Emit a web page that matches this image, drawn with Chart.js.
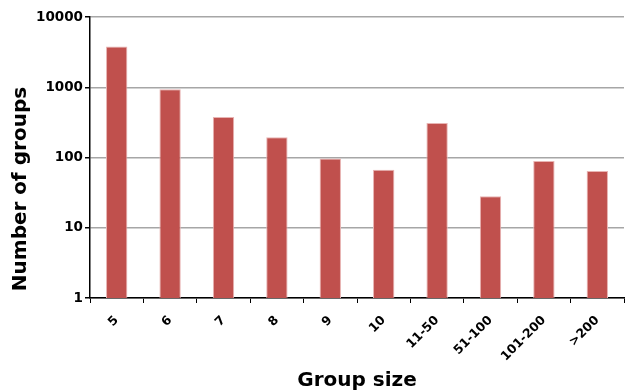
<!DOCTYPE html>
<html>
<head>
<meta charset="utf-8">
<script src="https://cdn.jsdelivr.net/npm/chart.js@4/dist/chart.umd.min.js"></script>
<style>
  html, body { margin: 0; padding: 0; background: #fff; }
  #wrap { width: 625px; height: 392px; position: relative; }
</style>
</head>
<body>
<div id="wrap"><canvas id="chart"></canvas></div>
<script>
// Group sizes and how many groups fall in each
const categories = ['5', '6', '7', '8', '9', '10', '11-50', '51-100', '101-200', '>200'];
const groupCounts = [3800, 935, 377, 195, 97, 67, 309, 28, 89, 64];
const yTickValues = [1, 10, 100, 1000, 10000];
const xTitle = 'Group size';
const yTitle = 'Number of groups';

const FONT = '"DejaVu Sans", Verdana, sans-serif';

// Axis titles drawn beside the plot area
const axisTitles = {
  id: 'axisTitles',
  afterDraw(chart) {
    const { ctx, chartArea } = chart;
    ctx.save();
    ctx.fillStyle = '#000';
    ctx.font = 'bold 20px ' + FONT;
    ctx.textAlign = 'center';
    ctx.textBaseline = 'alphabetic';
    ctx.fillText(xTitle, (chartArea.left + chartArea.right) / 2, 386);
    ctx.translate(26, 189);
    ctx.rotate(-Math.PI / 2);
    ctx.fillText(yTitle, 0, 0);
    ctx.restore();
  }
};

new Chart(document.getElementById('chart'), {
  type: 'bar',
  data: {
    labels: categories,
    datasets: [{
      data: groupCounts,
      backgroundColor: '#C0504D',
      borderColor: '#E8B4B3',
      borderWidth: 1,
      categoryPercentage: 0.8,
      barPercentage: 0.5
    }]
  },
  options: {
    responsive: true,
    maintainAspectRatio: false,
    animation: false,
    layout: { padding: { left: 0, right: 1, top: 17, bottom: 0 } },
    plugins: {
      legend: { display: false },
      tooltip: { enabled: false }
    },
    scales: {
      x: {
        grid: {
          offset: true,
          drawOnChartArea: false,
          drawTicks: true,
          tickLength: 5,
          tickColor: '#000'
        },
        border: { color: '#000', width: 1.5 },
        ticks: {
          color: '#000',
          font: { family: FONT, size: 12.5, weight: 'bold' },
          minRotation: 45,
          maxRotation: 45,
          padding: 10
        },
        afterFit(scale) { scale.height = 94; }
      },
      y: {
        type: 'logarithmic',
        min: 1,
        max: 10000,
        afterBuildTicks(scale) {
          scale.ticks = yTickValues.map(v => ({ value: v }));
        },
        grid: {
          color: '#A6A6A6',
          lineWidth: 1.5,
          tickLength: 5,
          tickColor: '#000'
        },
        border: { color: '#000', width: 1.5 },
        ticks: {
          color: '#000',
          font: { family: FONT, size: 13.5, weight: 'bold' },
          padding: 2,
          callback: v => String(v)
        },
        afterFit(scale) { scale.width = 90; }
      }
    }
  },
  plugins: [axisTitles]
});
</script>
</body>
</html>
